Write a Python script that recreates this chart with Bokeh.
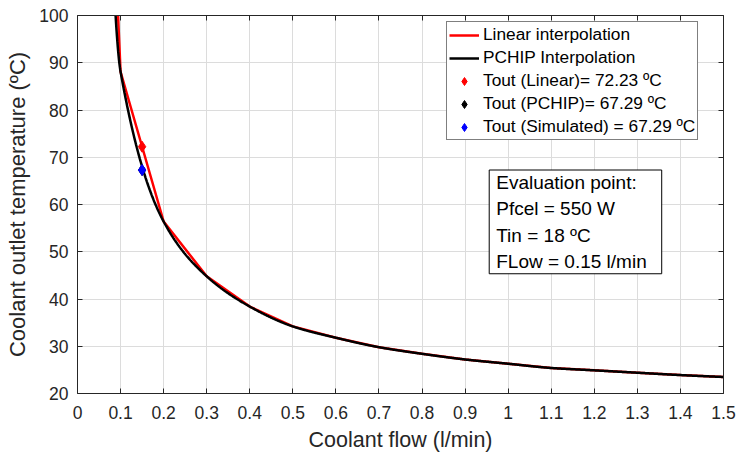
import numpy as np
from bokeh.plotting import figure
from bokeh.models import (Range1d, FixedTicker, LinearAxis, NumeralTickFormatter,
                          Label, Legend, CustomJSTickFormatter)
from bokeh.embed import file_html
from bokeh.resources import INLINE

# ---- data ----
flow = [0.05, 0.1, 0.2, 0.3, 0.4, 0.5, 0.6, 0.7, 0.8, 0.9, 1.0, 1.1, 1.2, 1.3, 1.4, 1.5]
tout = [190.0, 88.1, 56.4, 44.8, 38.4, 34.2, 31.8, 29.8, 28.4, 27.2, 26.3, 25.4, 24.9, 24.4, 23.9, 23.5]
eval_flow = 0.15
tout_linear = 72.23
tout_pchip = 67.29
tout_sim = 67.29
xticks = [0, 0.1, 0.2, 0.3, 0.4, 0.5, 0.6, 0.7, 0.8, 0.9, 1.0, 1.1, 1.2, 1.3, 1.4, 1.5]
yticks = [20, 30, 40, 50, 60, 70, 80, 90, 100]
legend_labels = ["Linear interpolation", "PCHIP Interpolation",
                 "Tout (Linear)= 72.23 ºC", "Tout (PCHIP)= 67.29 ºC",
                 "Tout (Simulated) = 67.29 ºC"]
note_lines = ["Evaluation point:", "Pfcel = 550 W", "Tin = 18 ºC", "FLow = 0.15 l/min"]


def pchip(x, y, xs):
    x = np.asarray(x, float); y = np.asarray(y, float); xs = np.asarray(xs, float)
    h = np.diff(x); d = np.diff(y) / h
    n = len(x)
    m = np.zeros(n)
    for k in range(1, n - 1):
        if d[k - 1] * d[k] > 0:
            w1 = 2 * h[k - 1] + h[k]
            w2 = h[k - 1] + 2 * h[k]
            m[k] = (w1 + w2) / (w1 / d[k - 1] + w2 / d[k])

    def end(h0, h1, d0, d1):
        mm = ((2 * h0 + h1) * d0 - h0 * d1) / (h0 + h1)
        if np.sign(mm) != np.sign(d0):
            mm = 0.0
        elif np.sign(d0) != np.sign(d1) and abs(mm) > abs(3 * d0):
            mm = 3 * d0
        return mm
    m[0] = end(h[0], h[1], d[0], d[1])
    m[-1] = end(h[-1], h[-2], d[-1], d[-2])
    idx = np.clip(np.searchsorted(x, xs) - 1, 0, n - 2)
    t = (xs - x[idx]) / h[idx]
    h00 = 2 * t**3 - 3 * t**2 + 1
    h10 = t**3 - 2 * t**2 + t
    h01 = -2 * t**3 + 3 * t**2
    h11 = t**3 - t**2
    return h00 * y[idx] + h10 * h[idx] * m[idx] + h01 * y[idx + 1] + h11 * h[idx] * m[idx + 1]


xs = np.linspace(flow[0], flow[-1], 1500)
ys = pchip(flow, tout, xs)

FONT = "Liberation Sans"
AX = "#262626"

p = figure(width=737, height=454, output_backend="svg", toolbar_location=None,
           x_range=Range1d(0, 1.5), y_range=Range1d(20, 100),
           min_border_left=77, min_border_right=14, min_border_top=15, min_border_bottom=60,
           x_axis_label="Coolant flow (l/min)", y_axis_label="Coolant outlet temperature (ºC)")
p.outline_line_color = None
p.background_fill_color = "white"

for ax, tk in ((p.xaxis[0], xticks), (p.yaxis[0], yticks)):
    ax.ticker = FixedTicker(ticks=tk)
    ax.major_tick_in = 5
    ax.major_tick_out = 0
    ax.minor_tick_line_color = None
    ax.axis_line_color = AX
    ax.major_tick_line_color = AX
    ax.major_label_text_font = FONT
    ax.major_label_text_font_size = "17.5px"
    ax.major_label_text_color = AX
    ax.axis_label_text_font = FONT
    ax.axis_label_text_font_style = "normal"
    ax.axis_label_text_color = AX
p.xaxis[0].formatter = NumeralTickFormatter(format="0.[0]")
p.xaxis[0].axis_label_text_font_size = "21.5px"
p.yaxis[0].axis_label_text_font_size = "22px"
p.xaxis[0].major_label_standoff = 12
p.xaxis[0].axis_label_standoff = 6
p.yaxis[0].major_label_standoff = 9
p.yaxis[0].axis_label_standoff = 6

for loc, tk in (("above", xticks), ("right", yticks)):
    a = LinearAxis(ticker=FixedTicker(ticks=tk),
                   formatter=CustomJSTickFormatter(code="return ''"))
    a.major_tick_in = 5
    a.major_tick_out = 0
    a.minor_tick_line_color = None
    a.axis_line_color = AX
    a.major_tick_line_color = AX
    a.major_label_text_font_size = "1px"
    a.major_label_standoff = 0
    p.add_layout(a, loc)

p.xgrid.ticker = FixedTicker(ticks=xticks)
p.ygrid.ticker = FixedTicker(ticks=yticks)
p.xgrid.grid_line_color = "#dcdcdc"
p.ygrid.grid_line_color = "#dcdcdc"

r1 = p.line(flow, tout, line_color="#ff0000", line_width=2.5)
r2 = p.line(xs, ys, line_color="#000000", line_width=2.5)
r3 = p.scatter([eval_flow], [tout_linear], marker="diamond", size=11,
               fill_color="#ff0000", line_color="#ff0000")
r4 = p.scatter([eval_flow], [tout_pchip], marker="diamond", size=11,
               fill_color="#000000", line_color="#000000")
r5 = p.scatter([eval_flow], [tout_sim], marker="diamond", size=11,
               fill_color="#0000ff", line_color="#0000ff")

legend = Legend(items=[(legend_labels[0], [r1]), (legend_labels[1], [r2]),
                       (legend_labels[2], [r3]), (legend_labels[3], [r4]),
                       (legend_labels[4], [r5])],
                location=(369, 253))
legend.border_line_color = "#000000"
legend.border_line_width = 1
legend.background_fill_color = "white"
legend.background_fill_alpha = 1
legend.label_text_font = FONT
legend.label_text_font_size = "17.3px"
legend.label_text_color = "#000000"
legend.glyph_width = 30
legend.glyph_height = 20
legend.label_height = 20
legend.label_standoff = 4
legend.padding = 2
legend.spacing = 2
legend.margin = 0
p.add_layout(legend, "center")

note = Label(x=0.956, y=67.3, anchor="top_left", text="\n".join(note_lines),
             text_font=FONT, text_font_size="19px", text_color="#000000",
             text_line_height=1.25, padding=(7, 15, 2, 2),
             border_line_color="#000000", border_line_width=1,
             background_fill_color="white", background_fill_alpha=1)
p.add_layout(note)

open("out.html", "w").write(file_html(p, INLINE))
